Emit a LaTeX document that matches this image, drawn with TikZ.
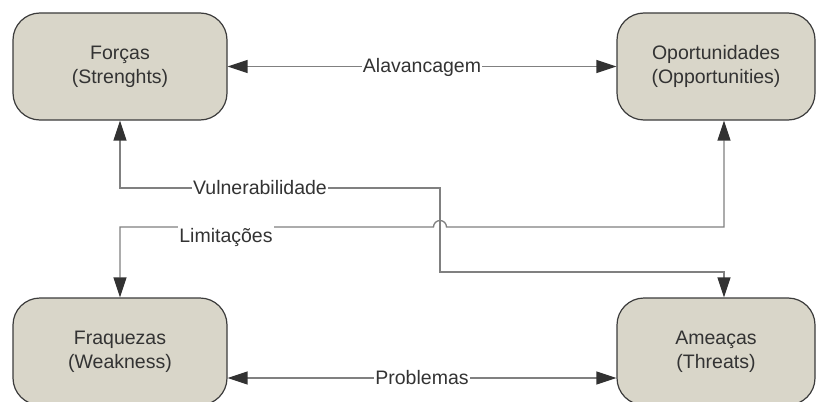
\documentclass[tikz,border=0pt]{standalone}
\usepackage{fontspec}
\setmainfont{Liberation Sans}
\usetikzlibrary{arrows.meta,calc}

\definecolor{boxfill}{RGB}{217,214,201}
\definecolor{boxline}{RGB}{60,60,60}
\definecolor{wire}{RGB}{128,128,128}
\definecolor{tipcol}{RGB}{50,50,50}
\definecolor{txt}{RGB}{51,51,51}

\tikzset{
  swotbox/.style={draw=boxline, line width=1.2pt, fill=boxfill, rounded corners=27pt,
    minimum height=107pt, align=center, text=txt, inner sep=0pt,
    font=\fontsize{19.5}{24}\selectfont},
  wideb/.style={swotbox, minimum width=214pt},
  narrowb/.style={swotbox, minimum width=198pt},
  link/.style={draw=wire, line width=1.3pt,
    {Triangle[length=20pt,width=13pt,color=tipcol]}-{Triangle[length=20pt,width=13pt,color=tipcol]}},
  tag/.style={fill=white, text=txt, inner xsep=1pt, inner ysep=3pt,
    font=\fontsize{19.5}{24}\selectfont}
}

\begin{document}
\begin{tikzpicture}[x=1pt,y=-1pt]
  \useasboundingbox (0,0) rectangle (818,401);
  \clip (0,0) rectangle (818,401);

  % the four quadrants
  \node[wideb]   (forcas) at (120,66.5)  {Forças\\(Strenghts)};
  \node[narrowb] (oport)  at (716,66.5)  {Oportunidades\\(Opportunities)};
  \node[wideb]   (fraq)   at (120,351.5) {Fraquezas\\(Weakness)};
  \node[narrowb] (amea)   at (716,351.5) {Ameaças\\(Threats)};

  % attachment points of the links
  \coordinate (oportfoot) at ($(oport.south)+(8,0)$);
  \coordinate (ameatop)   at ($(amea.north)+(8,0)$);
  \coordinate (fraqside)  at ($(fraq.east)+(0,26.5)$);
  \coordinate (ameaside)  at ($(amea.west)+(0,26.5)$);

  % horizontal links
  \draw[link] (forcas.east) -- (oport.west);
  \draw[link] (fraqside) -- (ameaside);

  % Vulnerabilidade: Forças <-> Ameaças
  \draw[link] (forcas.south) |- (440,188) -- (440,272) -| (ameatop);

  % Limitações: Oportunidades <-> Fraquezas, hopping over the other link
  \draw[link] (oportfoot) |- (446.5,227)
    arc[start angle=0, end angle=-180, radius=6.5]
    -| (fraq.north);

  % link labels
  \node[tag] (lalav) at (422,67)  {Alavancagem};
  \node[tag] (lprob) at (422,378) {Problemas};
  \node[tag] (lvuln) at (260,188) {Vulnerabilidade};
  \node[tag, anchor=base] (llim) at (226,242) {Limitações};
\end{tikzpicture}
\end{document}
